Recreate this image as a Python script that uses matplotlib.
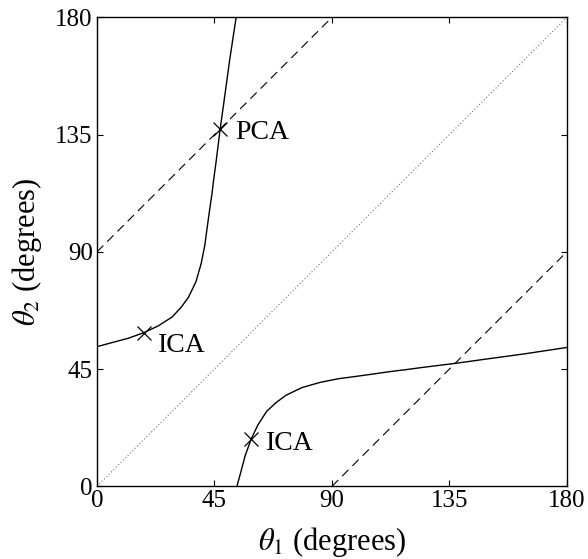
import numpy as np
import matplotlib
matplotlib.use('Agg')
import matplotlib.pyplot as plt

# curve of solutions (degrees)
upper_t1 = [0, 5.5, 11.9, 18.0, 23.5, 28.8, 32.3, 35.0, 37.9, 39.9, 41.3, 42.3, 43.2,
            44.0, 44.8, 45.7, 47.2, 48.9, 50.8, 53.3]
upper_t2 = [53.6, 55.1, 56.8, 59.0, 61.6, 65.0, 68.8, 72.5, 78.5, 85.5, 92.5, 100.0, 106.5,
            112.0, 118.5, 125.2, 137.3, 149.5, 163.5, 180.0]
lower_t1 = [53.6, 55.1, 56.8, 59.0, 61.6, 65.0, 68.8, 72.5, 78.5, 85.5, 92.5, 100.0, 106.5,
            112.0, 118.5, 125.2, 137.3, 149.5, 163.5, 180.0]
lower_t2 = [0, 5.5, 11.9, 18.0, 23.5, 28.8, 32.3, 35.0, 37.9, 39.9, 41.3, 42.3, 43.2,
            44.0, 44.8, 45.7, 47.2, 48.9, 50.8, 53.3]

diag_t1 = [0, 180]
diag_t2 = [0, 180]
dash_hi_t1 = [0, 90]
dash_hi_t2 = [90, 180]
dash_lo_t1 = [90, 180]
dash_lo_t2 = [0, 90]

mark_t1 = [47.2, 18.0, 59.0]
mark_t2 = [137.3, 59.0, 18.0]
mark_names = ['PCA', 'ICA', 'ICA']
ticks = [0, 45, 90, 135, 180]

# label offsets in points (style only)
offsets = [(11, -3), (10, -9), (11, -3)]

plt.rcParams['font.family'] = ['Liberation Serif', 'DejaVu Serif']
plt.rcParams['mathtext.fontset'] = 'stix'

fig = plt.figure(figsize=(5.88, 5.59), dpi=100)
ax = fig.add_axes([0.165, 0.13, 0.799, 0.839])

ax.plot(diag_t1, diag_t2, color='0.45', lw=0.8, ls=(0, (1, 2)))
ax.plot(dash_hi_t1, dash_hi_t2, color='k', lw=0.8, ls=(0, (8, 5)))
ax.plot(dash_lo_t1, dash_lo_t2, color='k', lw=0.8, ls=(0, (8, 5)))
ax.plot(upper_t1, upper_t2, color='k', lw=1.0)
ax.plot(lower_t1, lower_t2, color='k', lw=1.0)

for x, y, name, off in zip(mark_t1, mark_t2, mark_names, offsets):
    ax.plot(x, y, marker='x', color='k', ms=10, mew=0.9)
    ax.annotate(name, (x, y), xytext=off, textcoords='offset points',
                fontsize=20, va='center', ha='left')

ax.set_xlim(0, 180)
ax.set_ylim(0, 180)
ax.set_xticks(ticks)
ax.set_yticks(ticks)
ax.tick_params(direction='in', top=True, right=True, labelsize=18, length=4)
ax.tick_params(axis='x', pad=3)
ax.tick_params(axis='y', pad=3)
for s in ax.spines.values():
    s.set_linewidth(1.0)

ax.set_xlabel(r'$\theta_1$ (degrees)', fontsize=22)
ax.set_ylabel(r'$\theta_2$ (degrees)', fontsize=22)
ax.xaxis.set_label_coords(0.5, -0.082)
ax.yaxis.set_label_coords(-0.112, 0.5)

fig.savefig('out.png', dpi=100)
